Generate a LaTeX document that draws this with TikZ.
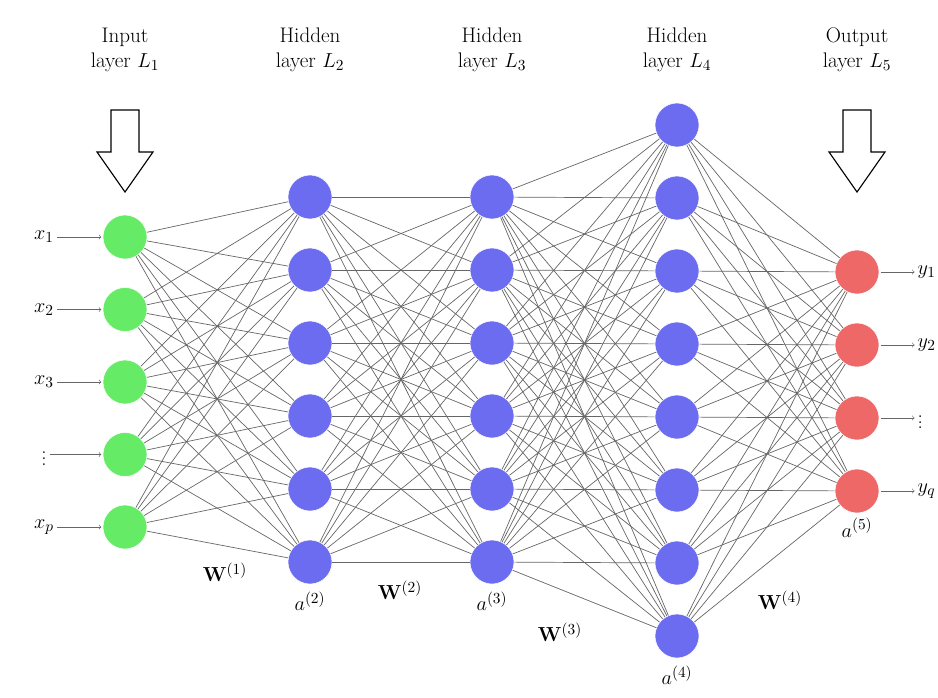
\documentclass[tikz,border=0pt]{standalone}
\usetikzlibrary{calc}
\definecolor{hijau}{RGB}{102,235,102}
\definecolor{biru}{RGB}{108,108,240}
\definecolor{merah}{RGB}{238,104,104}
\newcommand{\blokpanah}[1]{\draw[thick,fill=white] ($(#1)+(-0.35,0)$) -- ($(#1)+(0.35,0)$) -- ($(#1)+(0.35,-1.05)$) -- ($(#1)+(0.7,-1.05)$) -- ($(#1)+(0,-2.05)$) -- ($(#1)+(-0.7,-1.05)$) -- ($(#1)+(-0.35,-1.05)$) -- cycle;}

\begin{document}
\begin{tikzpicture}[font=\fontsize{15}{18}\selectfont,
  neuron/.style={circle,minimum size=1.1cm,inner sep=0pt,draw=white,thin},
  bobot/.style={gray!80!black,line width=0.5pt},
  panah/.style={->,gray!80!black,shorten <=1pt,shorten >=1pt}]
  \useasboundingbox (0,0) rectangle (23.45,-17.425);

  % layers
  \foreach \i in {1,...,5}
    \node[neuron,fill=hijau] (in-\i) at (3.125,{-5.925-1.8125*(\i-1)}) {};
  \foreach \i in {1,...,6} {
    \node[neuron,fill=biru] (ha-\i) at (7.75,{-4.925-1.825*(\i-1)}) {};
    \node[neuron,fill=biru] (hb-\i) at (12.3,{-4.925-1.825*(\i-1)}) {};
  }
  \foreach \i in {1,...,8}
    \node[neuron,fill=biru] (hc-\i) at (16.925,{-3.125-1.825*(\i-1)}) {};
  \foreach \i in {1,...,4}
    \node[neuron,fill=merah] (out-\i) at (21.425,{-6.8-1.825*(\i-1)}) {};

  % weights
  \foreach \i in {1,...,5} \foreach \j in {1,...,6} \draw[bobot] (in-\i) -- (ha-\j);
  \foreach \i in {1,...,6} \foreach \j in {1,...,6} \draw[bobot] (ha-\i) -- (hb-\j);
  \foreach \i in {1,...,6} \foreach \j in {1,...,8} \draw[bobot] (hb-\i) -- (hc-\j);
  \foreach \i in {1,...,8} \foreach \j in {1,...,4} \draw[bobot] (hc-\i) -- (out-\j);

  % inputs and outputs
  \foreach \i/\t in {1/x_1,2/x_2,3/x_3,4/\vdots,5/x_p} {
    \node[inner sep=1pt] (x-\i) at (1.1,{-5.925-1.8125*(\i-1)}) {$\t$};
    \draw[panah] (x-\i) -- (in-\i);
  }
  \foreach \i/\t in {1/y_1,2/y_2,3/\vdots,4/y_q} {
    \node[anchor=west,inner sep=1pt] (y-\i) at (22.9,{-6.8-1.825*(\i-1)}) {$\t$};
    \draw[panah] (out-\i) -- (y-\i);
  }

  % headers
  \node[align=center] (t1) at (3.125,-1.25) {Input\\layer $L_1$};
  \node[align=center] (t2) at (7.75,-1.25) {Hidden\\layer $L_2$};
  \node[align=center] (t3) at (12.3,-1.25) {Hidden\\layer $L_3$};
  \node[align=center] (t4) at (16.925,-1.25) {Hidden\\layer $L_4$};
  \node[align=center] (t5) at (21.425,-1.25) {Output\\layer $L_5$};
  \coordinate (p1) at (3.125,-2.75);
  \coordinate (p5) at (21.425,-2.75);
  \blokpanah{p1}
  \blokpanah{p5}

  % labels
  \node[below=2pt] at (ha-6.south) {$a^{(2)}$};
  \node[below=2pt] at (hb-6.south) {$a^{(3)}$};
  \node[below=2pt] at (hc-8.south) {$a^{(4)}$};
  \node[below=0pt] at (out-4.south) {$a^{(5)}$};
  \node at (5.625,-14.3) {$\mathbf{W}^{(1)}$};
  \node at (10,-14.75) {$\mathbf{W}^{(2)}$};
  \node at (14,-15.8) {$\mathbf{W}^{(3)}$};
  \node at (19.5,-15) {$\mathbf{W}^{(4)}$};
\end{tikzpicture}
\end{document}
